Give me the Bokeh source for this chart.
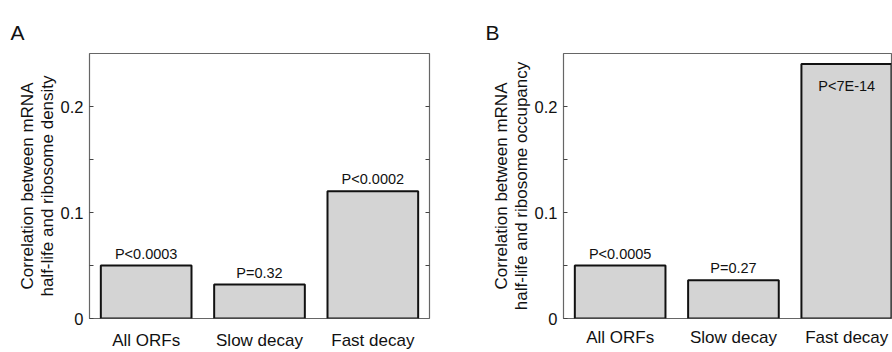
from bokeh.plotting import figure
from bokeh.layouts import row
from bokeh.models import Range1d, FixedTicker, LinearAxis, Title, ColumnDataSource
from bokeh.core.properties import value
from bokeh.embed import file_html
from bokeh.resources import INLINE

categories = ["All ORFs", "Slow decay", "Fast decay"]
density_values = [0.050, 0.032, 0.120]
density_pvalues = ["P<0.0003", "P=0.32", "P<0.0002"]
occupancy_values = [0.050, 0.036, 0.240]
occupancy_pvalues = ["P<0.0005", "P=0.27", "P<7E-14"]
y_ticks = [0, 0.1, 0.2]
y_minor_ticks = [0.05, 0.15]
y_max = 0.25

FONT = "Liberation Sans"
TXT = "#111111"


def make_panel(letter, letter_offset, vals, pvals, ylabel, width, border_left,
               border_right, border_top, frame_h, border_bottom, x_end,
               show_right, xlabel_standoff):
    xs = list(range(1, len(categories) + 1))
    p = figure(width=width, height=border_top + frame_h + border_bottom,
               output_backend="svg", toolbar_location=None,
               x_range=Range1d(0.5, x_end), y_range=Range1d(0, y_max),
               min_border_left=border_left, min_border_right=border_right,
               min_border_top=border_top, min_border_bottom=border_bottom,
               title=None)
    p.grid.visible = False
    p.outline_line_color = "#666666"
    p.outline_line_width = 1.2
    p.background_fill_color = "white"
    p.border_fill_color = "white"

    src = ColumnDataSource(dict(x=xs, top=vals, p=pvals))
    p.vbar(x="x", top="top", bottom=0, width=0.8, source=src,
           fill_color="#d4d4d4", line_color="#111111", line_width=2)

    out_x, out_y, out_t = [], [], []
    in_x, in_y, in_t = [], [], []
    for x, v, t in zip(xs, vals, pvals):
        if v > 0.8 * y_max:
            in_x.append(x); in_y.append(v); in_t.append(t)
        else:
            out_x.append(x); out_y.append(v); out_t.append(t)
    if out_x:
        p.text(x=out_x, y=out_y, text=out_t, text_align="center",
               text_baseline="bottom", y_offset=-4,
               text_font=value(FONT), text_font_size="14.5px", text_color=TXT)
    if in_x:
        p.text(x=in_x, y=in_y, text=in_t, text_align="center",
               text_baseline="top", y_offset=14,
               text_font=value(FONT), text_font_size="14.5px", text_color=TXT)

    xa = p.xaxis[0]
    xa.ticker = FixedTicker(ticks=xs)
    xa.major_label_overrides = {x: c for x, c in zip(xs, categories)}
    xa.major_tick_line_color = None
    xa.major_tick_in = 0
    xa.major_tick_out = 0
    xa.minor_tick_line_color = None
    xa.minor_tick_in = 0
    xa.minor_tick_out = 0
    xa.axis_line_color = None
    xa.major_label_standoff = xlabel_standoff
    xa.major_label_text_font = FONT
    xa.major_label_text_font_size = "17px"
    xa.major_label_text_color = TXT

    ya = p.yaxis[0]
    ya.ticker = FixedTicker(ticks=y_ticks, minor_ticks=y_minor_ticks)
    ya.major_label_overrides = {0: "0", 0.1: "0.1", 0.2: "0.2"}
    ya.axis_line_color = None
    ya.major_tick_in = 4
    ya.major_tick_out = 0
    ya.minor_tick_in = 4
    ya.minor_tick_out = 0
    ya.major_tick_line_color = "#444444"
    ya.minor_tick_line_color = "#444444"
    ya.major_label_standoff = 6
    ya.major_label_text_font = FONT
    ya.major_label_text_font_size = "16.5px"
    ya.major_label_text_color = TXT
    ya.axis_label = ylabel
    ya.axis_label_standoff = 1
    ya.axis_label_text_font = FONT
    ya.axis_label_text_font_size = "17px"
    ya.axis_label_text_font_style = "normal"
    ya.axis_label_text_line_height = 1.05
    ya.axis_label_text_color = TXT

    if show_right:
        ra = LinearAxis(ticker=FixedTicker(ticks=[], minor_ticks=y_minor_ticks + y_ticks[1:]))
        ra.axis_line_color = None
        ra.major_tick_in = 0
        ra.major_tick_out = 0
        ra.minor_tick_in = 4
        ra.minor_tick_out = 0
        ra.minor_tick_line_color = "#444444"
        ra.major_label_standoff = 0
        p.add_layout(ra, "right")

    p.add_layout(Title(text=letter, align="left", offset=letter_offset,
                       standoff=20, text_font=FONT, text_font_size="21px",
                       text_font_style="normal", text_color=TXT), "above")
    return p


pa = make_panel("A", -79, density_values, density_pvalues,
                "Correlation between mRNA\nhalf-life and ribosome density",
                width=446, border_left=89, border_right=17,
                border_top=52, frame_h=266, border_bottom=34,
                x_end=3.5, show_right=True, xlabel_standoff=12)
pb = make_panel("B", -78, occupancy_values, occupancy_pvalues,
                "Correlation between mRNA\nhalf-life and ribosome occupancy",
                width=446, border_left=117, border_right=1,
                border_top=53, frame_h=268, border_bottom=31,
                x_end=3.395, show_right=False, xlabel_standoff=9)

layout = row(pa, pb)
open("out.html", "w").write(file_html(layout, INLINE))
